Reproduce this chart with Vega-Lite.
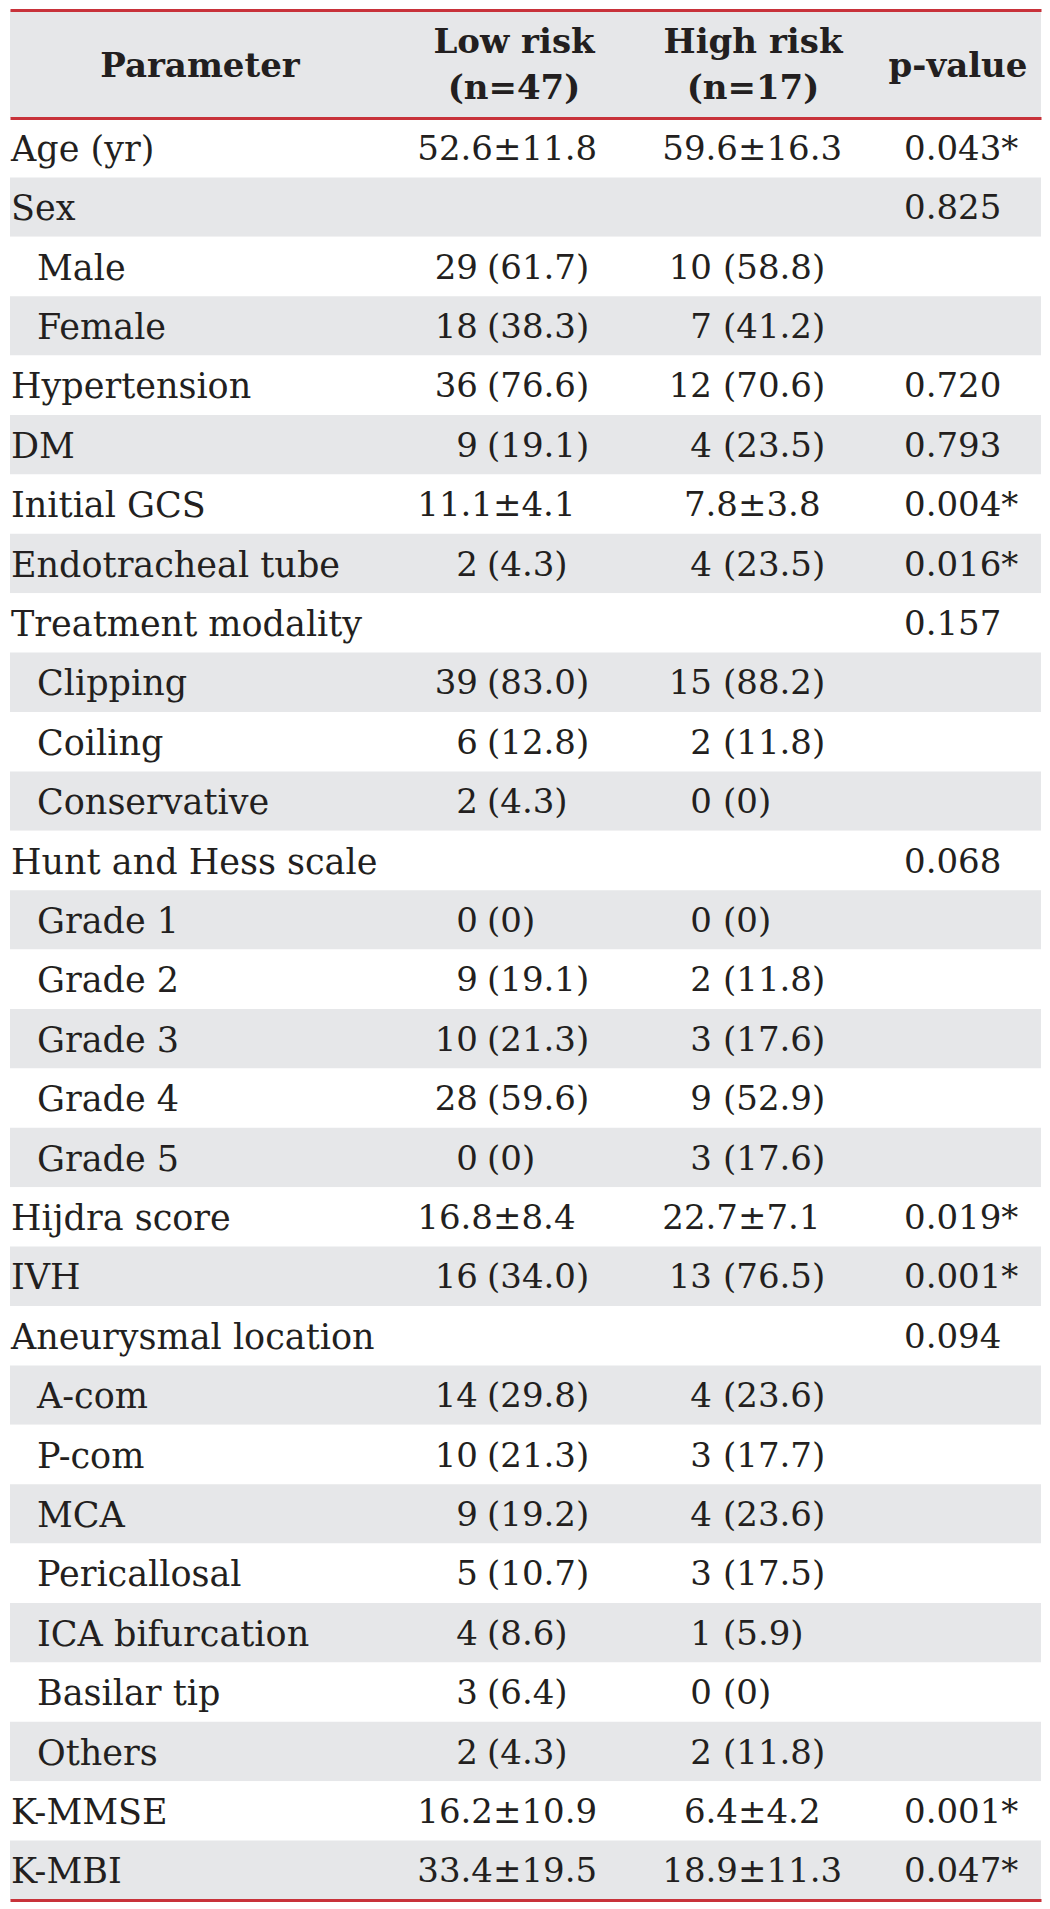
{
  "$schema": "https://vega.github.io/schema/vega-lite/v6.json",
  "padding": {"top": 10, "left": 10, "right": 9, "bottom": 9},
  "background": "white",
  "spacing": 0,
  "bounds": "flush",
  "config": {
    "view": {"stroke": null},
    "text": {"font": "DejaVu Serif", "fontSize": 34, "color": "#231f20"},
    "axis": {"domainCap": "butt"}
  },
  "datasets": {
    "head": [
      {"c": 0, "label": "Parameter"},
      {"c": 1, "label": "Low risk\n(n=47)"},
      {"c": 2, "label": "High risk\n(n=17)"},
      {"c": 3, "label": "p-value"}
    ],
    "rows": [
      {"r": 1, "param": "Age (yr)", "lowM": "52.6", "lowS": "±11.8", "highM": "59.6", "highS": "±16.3", "p": "0.043*"},
      {"r": 2, "param": "Sex", "p": "0.825"},
      {"r": 3, "param": "Male", "sub": true, "lowN": "29", "lowP": "(61.7)", "highN": "10", "highP": "(58.8)"},
      {"r": 4, "param": "Female", "sub": true, "lowN": "18", "lowP": "(38.3)", "highN": "7", "highP": "(41.2)"},
      {"r": 5, "param": "Hypertension", "lowN": "36", "lowP": "(76.6)", "highN": "12", "highP": "(70.6)", "p": "0.720"},
      {"r": 6, "param": "DM", "lowN": "9", "lowP": "(19.1)", "highN": "4", "highP": "(23.5)", "p": "0.793"},
      {"r": 7, "param": "Initial GCS", "lowM": "11.1", "lowS": "±4.1", "highM": "7.8", "highS": "±3.8", "p": "0.004*"},
      {"r": 8, "param": "Endotracheal tube", "lowN": "2", "lowP": "(4.3)", "highN": "4", "highP": "(23.5)", "p": "0.016*"},
      {"r": 9, "param": "Treatment modality", "p": "0.157"},
      {"r": 10, "param": "Clipping", "sub": true, "lowN": "39", "lowP": "(83.0)", "highN": "15", "highP": "(88.2)"},
      {"r": 11, "param": "Coiling", "sub": true, "lowN": "6", "lowP": "(12.8)", "highN": "2", "highP": "(11.8)"},
      {"r": 12, "param": "Conservative", "sub": true, "lowN": "2", "lowP": "(4.3)", "highN": "0", "highP": "(0)"},
      {"r": 13, "param": "Hunt and Hess scale", "p": "0.068"},
      {"r": 14, "param": "Grade 1", "sub": true, "lowN": "0", "lowP": "(0)", "highN": "0", "highP": "(0)"},
      {"r": 15, "param": "Grade 2", "sub": true, "lowN": "9", "lowP": "(19.1)", "highN": "2", "highP": "(11.8)"},
      {"r": 16, "param": "Grade 3", "sub": true, "lowN": "10", "lowP": "(21.3)", "highN": "3", "highP": "(17.6)"},
      {"r": 17, "param": "Grade 4", "sub": true, "lowN": "28", "lowP": "(59.6)", "highN": "9", "highP": "(52.9)"},
      {"r": 18, "param": "Grade 5", "sub": true, "lowN": "0", "lowP": "(0)", "highN": "3", "highP": "(17.6)"},
      {"r": 19, "param": "Hijdra score", "lowM": "16.8", "lowS": "±8.4", "highM": "22.7", "highS": "±7.1", "p": "0.019*"},
      {"r": 20, "param": "IVH", "lowN": "16", "lowP": "(34.0)", "highN": "13", "highP": "(76.5)", "p": "0.001*"},
      {"r": 21, "param": "Aneurysmal location", "p": "0.094"},
      {"r": 22, "param": "A-com", "sub": true, "lowN": "14", "lowP": "(29.8)", "highN": "4", "highP": "(23.6)"},
      {"r": 23, "param": "P-com", "sub": true, "lowN": "10", "lowP": "(21.3)", "highN": "3", "highP": "(17.7)"},
      {"r": 24, "param": "MCA", "sub": true, "lowN": "9", "lowP": "(19.2)", "highN": "4", "highP": "(23.6)"},
      {"r": 25, "param": "Pericallosal", "sub": true, "lowN": "5", "lowP": "(10.7)", "highN": "3", "highP": "(17.5)"},
      {"r": 26, "param": "ICA bifurcation", "sub": true, "lowN": "4", "lowP": "(8.6)", "highN": "1", "highP": "(5.9)"},
      {"r": 27, "param": "Basilar tip", "sub": true, "lowN": "3", "lowP": "(6.4)", "highN": "0", "highP": "(0)"},
      {"r": 28, "param": "Others", "sub": true, "lowN": "2", "lowP": "(4.3)", "highN": "2", "highP": "(11.8)"},
      {"r": 29, "param": "K-MMSE", "lowM": "16.2", "lowS": "±10.9", "highM": "6.4", "highS": "±4.2", "p": "0.001*"},
      {"r": 30, "param": "K-MBI", "lowM": "33.4", "lowS": "±19.5", "highM": "18.9", "highS": "±11.3", "p": "0.047*"}
    ]
  },
  "vconcat": [
    {
      "width": 1031,
      "height": 108,
      "view": {"fill": "#e6e7e9", "stroke": null},
      "data": {"name": "head"},
      "encoding": {
        "x": {"field": "c", "type": "quantitative",
          "scale": {"type": "linear", "domain": [-1, 0, 1, 2, 3, 4], "range": [0, 190, 504, 743, 948, 1031], "nice": false, "zero": false},
          "axis": {"orient": "top", "title": null, "labels": false, "ticks": false, "grid": false, "domain": true, "domainColor": "#c8323a", "domainWidth": 3, "zindex": 1}},
        "text": {"field": "label", "type": "nominal"}
      },
      "layer": [
        {
          "transform": [{"filter": "indexof(datum.label, '\\n') < 0"}],
          "mark": {"type": "text", "font": "DejaVu Serif", "fontWeight": "bold", "fontSize": 34, "align": "center", "baseline": "middle", "dy": 3}
        },
        {
          "transform": [{"filter": "indexof(datum.label, '\\n') >= 0"}],
          "mark": {"type": "text", "font": "DejaVu Serif", "fontWeight": "bold", "fontSize": 34, "lineBreak": "\n", "lineHeight": 46, "align": "center", "baseline": "middle", "dy": -21}
        }
      ]
    },
    {
      "width": 1031,
      "height": 1782,
      "data": {"name": "rows"},
      "encoding": {
        "y": {"field": "r", "type": "ordinal", "scale": {"paddingInner": 0, "paddingOuter": 0}, "axis": null}
      },
      "layer": [
        {
          "mark": {"type": "rect"},
          "encoding": {
            "color": {"condition": {"test": "datum.r % 2 == 0", "value": "#e6e7e9"}, "value": "#ffffff"}
          }
        },
        {
          "transform": [{"filter": "!datum.sub"}],
          "mark": {"type": "text", "align": "left", "baseline": "middle", "dy": 2, "fontSize": 35},
          "encoding": {
            "x": {"datum": 0, "type": "quantitative",
              "scale": {"type": "linear", "domain": [-1, 0, 1, 2, 3, 4, 5, 6, 7, 8, 9, 10, 11], "range": [0, 1, 27, 468, 477, 483, 483, 702, 713, 728, 728, 894, 1031], "nice": false, "zero": false},
              "axis": {"orient": "top", "title": null, "labels": false, "ticks": false, "grid": false, "domain": true, "domainColor": "#c8323a", "domainWidth": 3, "zindex": 1}},
            "text": {"field": "param", "type": "nominal"}
          }
        },
        {
          "transform": [{"filter": "datum.sub"}],
          "mark": {"type": "text", "align": "left", "baseline": "middle", "dy": 2, "fontSize": 35},
          "encoding": {
            "x": {"datum": 1, "type": "quantitative", "axis": null},
            "text": {"field": "param", "type": "nominal"}
          }
        },
        {
          "transform": [{"filter": "isValid(datum.lowN)"}],
          "mark": {"type": "text", "align": "right", "baseline": "middle", "dy": 2},
          "encoding": {
            "x": {"datum": 2, "type": "quantitative", "axis": null},
            "text": {"field": "lowN", "type": "nominal"}
          }
        },
        {
          "transform": [{"filter": "isValid(datum.lowP)"}],
          "mark": {"type": "text", "align": "left", "baseline": "middle", "dy": 2},
          "encoding": {
            "x": {"datum": 3, "type": "quantitative", "axis": null},
            "text": {"field": "lowP", "type": "nominal"}
          }
        },
        {
          "transform": [{"filter": "isValid(datum.lowM)"}],
          "mark": {"type": "text", "align": "right", "baseline": "middle", "dy": 2},
          "encoding": {
            "x": {"datum": 4, "type": "quantitative", "axis": null},
            "text": {"field": "lowM", "type": "nominal"}
          }
        },
        {
          "transform": [{"filter": "isValid(datum.lowS)"}],
          "mark": {"type": "text", "align": "left", "baseline": "middle", "dy": 2},
          "encoding": {
            "x": {"datum": 5, "type": "quantitative", "axis": null},
            "text": {"field": "lowS", "type": "nominal"}
          }
        },
        {
          "transform": [{"filter": "isValid(datum.highN)"}],
          "mark": {"type": "text", "align": "right", "baseline": "middle", "dy": 2},
          "encoding": {
            "x": {"datum": 6, "type": "quantitative", "axis": null},
            "text": {"field": "highN", "type": "nominal"}
          }
        },
        {
          "transform": [{"filter": "isValid(datum.highP)"}],
          "mark": {"type": "text", "align": "left", "baseline": "middle", "dy": 2},
          "encoding": {
            "x": {"datum": 7, "type": "quantitative", "axis": null},
            "text": {"field": "highP", "type": "nominal"}
          }
        },
        {
          "transform": [{"filter": "isValid(datum.highM)"}],
          "mark": {"type": "text", "align": "right", "baseline": "middle", "dy": 2},
          "encoding": {
            "x": {"datum": 8, "type": "quantitative", "axis": null},
            "text": {"field": "highM", "type": "nominal"}
          }
        },
        {
          "transform": [{"filter": "isValid(datum.highS)"}],
          "mark": {"type": "text", "align": "left", "baseline": "middle", "dy": 2},
          "encoding": {
            "x": {"datum": 9, "type": "quantitative", "axis": null},
            "text": {"field": "highS", "type": "nominal"}
          }
        },
        {
          "transform": [{"filter": "isValid(datum.p)"}],
          "mark": {"type": "text", "align": "left", "baseline": "middle", "dy": 2},
          "encoding": {
            "x": {"datum": 10, "type": "quantitative",
              "axis": {"orient": "bottom", "title": null, "labels": false, "ticks": false, "grid": false, "domain": true, "domainColor": "#c8323a", "domainWidth": 3, "zindex": 1}},
            "text": {"field": "p", "type": "nominal"}
          }
        }
      ],
      "resolve": {"axis": {"x": "independent"}}
    }
  ]
}
